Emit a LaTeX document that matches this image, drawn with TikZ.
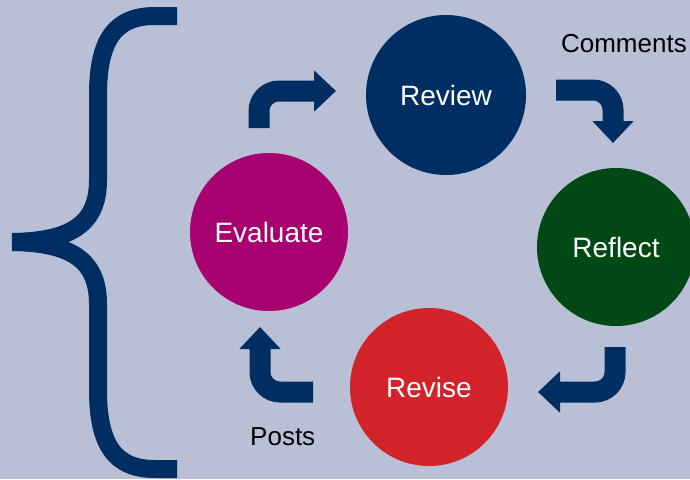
\documentclass[tikz,border=0pt]{standalone}
\usepackage{fontspec}
\setmainfont{Liberation Sans}
\usetikzlibrary{arrows.meta}
\definecolor{bgc}{RGB}{185,192,214}
\definecolor{navy}{RGB}{0,46,98}
\definecolor{magen}{RGB}{167,0,111}
\definecolor{dgreen}{RGB}{0,73,20}
\definecolor{rred}{RGB}{210,35,42}
\begin{document}
\begin{tikzpicture}[x=1pt,y=-1pt,
  circ/.style={circle, inner sep=0pt, text=white, font=\fontsize{28}{34}\selectfont},
  flow/.style={draw=navy, line width=21pt, rounded corners=20pt, -{Triangle[width=40pt,length=22pt]}},
  lbl/.style={font=\fontsize{26}{30}\selectfont, text=black, inner sep=0pt},
  brace/.style={draw=navy, line width=18pt}]
\useasboundingbox (0,0) rectangle (690,479);
\clip (0,0) rectangle (690,479);
\fill[bgc] (0,0) rectangle (690,479);
% brace
\draw[brace] (177,16) -- (155,16) .. controls (115,16) and (98,40) .. (98,95) -- (98,180) .. controls (98,225) and (70,241) .. (12,242);
\draw[brace] (12,242) .. controls (70,243) and (98,259) .. (98,304) -- (98,390) .. controls (98,445) and (115,469) .. (155,469) -- (177,469);
% circles
\node[circ, fill=navy, minimum size=160pt] (review) at (446,95) {Review};
\node[circ, fill=magen, minimum size=158pt] (evaluate) at (269,232) {Evaluate};
\node[circ, fill=dgreen, minimum size=158pt] (reflect) at (616,247) {Reflect};
\node[circ, fill=rred, minimum size=158pt] (revise) at (429,387) {Revise};
% labels
\node[lbl, anchor=base east] (comments) at (687,52) {Comments};
\node[lbl, anchor=base west] (posts) at (250,445) {Posts};
% arrows
\coordinate (a1s) at (259,128); \coordinate (a1e) at (336,91);
\coordinate (a2s) at (556,90);  \coordinate (a2e) at (613,143);
\coordinate (a3s) at (615,347); \coordinate (a3e) at (538,392);
\coordinate (a4s) at (313,392); \coordinate (a4e) at (260,327);
\draw[flow] (a1s) |- (a1e);
\draw[flow] (a2s) -| (a2e);
\draw[flow] (a3s) |- (a3e);
\draw[flow] (a4s) -| (a4e);
\end{tikzpicture}
\end{document}
